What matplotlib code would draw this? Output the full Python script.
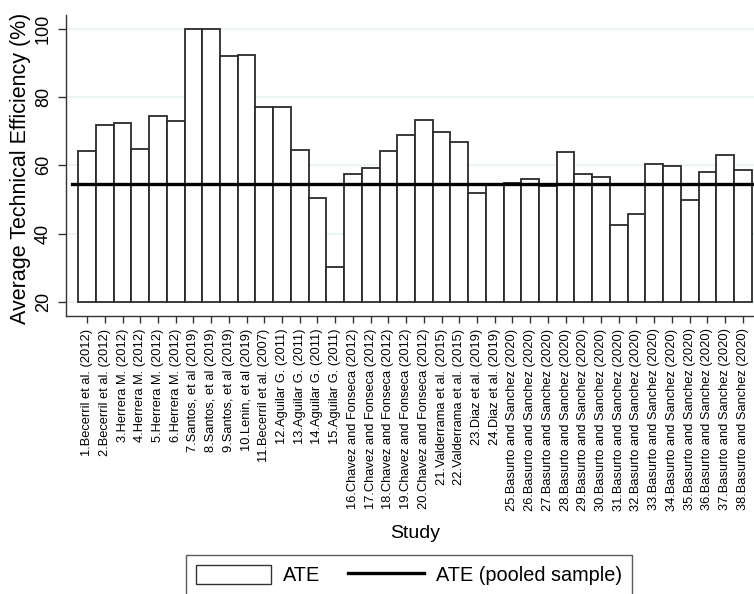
import numpy as np
import matplotlib
matplotlib.use('Agg')
import matplotlib.pyplot as plt
from matplotlib.patches import Patch
from matplotlib.lines import Line2D

plt.rcParams['font.family'] = ['Liberation Sans', 'DejaVu Sans']

# study labels (x axis)
studies = [
    '1.Becerril et al. (2012)', '2.Becerril et al. (2012)',
    '3.Herrera M. (2012)', '4.Herrera M. (2012)', '5.Herrera M. (2012)',
    '6.Herrera M. (2012)', '7.Santos, et al (2019)', '8.Santos, et al (2019)',
    '9.Santos, et al (2019)', '10.Lenin, et al (2019)',
    '11.Becerril et al. (2007)', '12.Aguilar G. (2011)', '13.Aguilar G. (2011)',
    '14.Aguilar G. (2011)', '15.Aguilar G. (2011)',
    '16.Chavez and Fonseca (2012)', '17.Chavez and Fonseca (2012)',
    '18.Chavez and Fonseca (2012)', '19.Chavez and Fonseca (2012)',
    '20.Chavez and Fonseca (2012)', '21.Valderrama et al. (2015)',
    '22.Valderrama et al. (2015)', '23.Diaz et al. (2019)', '24.Diaz et al. (2019)',
    '25.Basurto and Sanchez (2020)', '26.Basurto and Sanchez (2020)',
    '27.Basurto and Sanchez (2020)', '28.Basurto and Sanchez (2020)',
    '29.Basurto and Sanchez (2020)', '30.Basurto and Sanchez (2020)',
    '31.Basurto and Sanchez (2020)', '32.Basurto and Sanchez (2020)',
    '33.Basurto and Sanchez (2020)', '34.Basurto and Sanchez (2020)',
    '35.Basurto and Sanchez (2020)', '36.Basurto and Sanchez (2020)',
    '37.Basurto and Sanchez (2020)', '38.Basurto and Sanchez (2020)',
]

# average technical efficiency per study (%)
ate = [64.2, 71.7, 72.3, 64.8, 74.4, 72.9, 99.9, 99.9, 92.2, 92.5,
       77.0, 77.2, 64.4, 50.5, 30.3, 57.6, 59.1, 64.3, 68.9, 73.4,
       69.9, 66.8, 51.8, 54.3, 54.8, 56.1, 54.0, 64.0, 57.6, 56.5,
       42.4, 45.6, 60.5, 59.9, 49.9, 58.0, 63.0, 58.5]

ate_pooled = 54.4
base = 20
yticks = [20, 40, 60, 80, 100]

fig = plt.figure(figsize=(7.54, 5.94), dpi=100)
ax = fig.add_axes([66 / 754, 1 - 316 / 594, 688 / 754, 301 / 594])

x = np.arange(len(ate))
heights = np.array(ate) - base
ax.bar(x, heights, width=1.0, bottom=base, color='white',
       edgecolor='#2b2b2b', linewidth=1.3, zorder=2)
ax.plot([-0.87, len(ate)], [ate_pooled, ate_pooled], color='black',
        linewidth=2.4, zorder=3)

ax.set_xlim(-1.19, 37.63)
ax.set_ylim(15.8, 104.1)
ax.set_yticks(yticks)
ax.set_yticklabels([str(v) for v in yticks], rotation=90, va='center',
                   fontsize=13)
ax.set_xticks(x)
ax.set_xticklabels(studies, rotation=90, ha='center', va='top', fontsize=9.3)
ax.tick_params(axis='y', length=6, width=1, color='#333333', pad=4)
ax.tick_params(axis='x', length=5, width=1, color='#333333', pad=4)

for v in yticks:
    ax.axhline(v, color='#eaf2f3', linewidth=1.2, zorder=0)

for s in ['top', 'right']:
    ax.spines[s].set_visible(False)
for s in ['left', 'bottom']:
    ax.spines[s].set_color('#333333')
    ax.spines[s].set_linewidth(1.0)

fig.text(21 / 754, 1 - 168 / 594, 'Average Technical Efficiency (%)',
         rotation=90, ha='center', va='center', fontsize=15.5)
fig.text(415 / 754, 1 - 533 / 594, 'Study', ha='center', va='center',
         fontsize=14)

handles = [Patch(facecolor='white', edgecolor='#333333', linewidth=1.0),
           Line2D([0], [0], color='black', linewidth=2.4)]
leg = fig.legend(handles, ['ATE', 'ATE (pooled sample)'], ncol=2,
                 loc='upper left', bbox_to_anchor=(186 / 754, 1 - 555 / 594),
                 fontsize=14.3, frameon=True, fancybox=False,
                 handlelength=3.8, handleheight=1.1, handletextpad=0.6,
                 columnspacing=1.4, borderpad=0.5, borderaxespad=0)
leg.get_frame().set_edgecolor('#333333')
leg.get_frame().set_linewidth(1.0)

fig.savefig('out.png', dpi=100)
